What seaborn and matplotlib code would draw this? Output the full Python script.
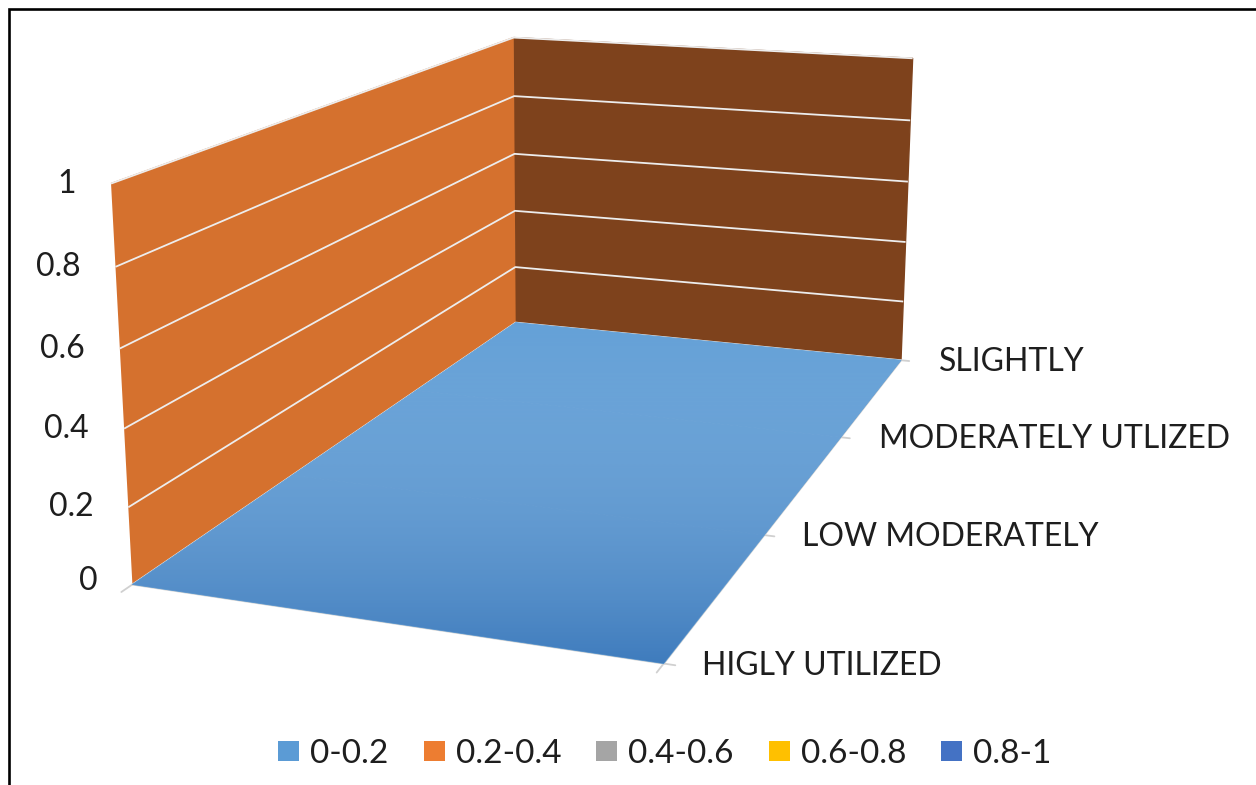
import numpy as np
import matplotlib
matplotlib.use("Agg")
import matplotlib.pyplot as plt
import seaborn as sns
from matplotlib.colors import LinearSegmentedColormap
from matplotlib.image import AxesImage
from matplotlib.lines import Line2D
from matplotlib.patches import Patch, Polygon
from mpl_toolkits.mplot3d import proj3d

# ---- chart data -----------------------------------------------------------
categories = ["", ""]
series = ["HIGLY UTILIZED", "LOW MODERATELY", "MODERATELY UTLIZED", "SLIGHTLY"]
values = [
    [0.0, 0.0],   # HIGLY UTILIZED
    [0.0, 0.0],   # LOW MODERATELY
    [0.0, 0.0],   # MODERATELY UTLIZED
    [0.0, 0.0],   # SLIGHTLY
]
band_edges = [0.0, 0.2, 0.4, 0.6, 0.8, 1.0]
band_labels = ["0-0.2", "0.2-0.4", "0.4-0.6", "0.6-0.8", "0.8-1"]
value_ticks = [0.0, 0.2, 0.4, 0.6, 0.8, 1.0]
value_tick_labels = ["0", "0.2", "0.4", "0.6", "0.8", "1"]

# ---- style ----------------------------------------------------------------
sns.set_theme(style="white")
plt.rcParams["font.family"] = ["Lato", "DejaVu Sans"]
band_palette = sns.color_palette(["#5B9BD5", "#ED7D31", "#A5A5A5", "#FFC000", "#4472C4"])
SIDE_WALL = "#D5712E"
BACK_WALL = "#7E421C"
GRID = "#EDEDED"
EDGE = "#D0D0D0"
TEXT = "#1E1E1E"
FS = 23
LEGEND_FS = 24

W, H = 1256, 785
fig = plt.figure(figsize=(W / 100, H / 100), dpi=100)
ax = fig.add_axes([0, 0, 1, 1], projection="3d")

# camera: box proportions, eye distance (box units), pixel scale at the
# look-at point and where that point sits on the canvas
BOX = np.array([1.0, 1.88, 0.734])
EYE = 3.87
PX_PER_UNIT = 572.7
CENTER = (573.5, 287.0)

ax.set_box_aspect(BOX)
unit = np.linalg.norm(ax._box_aspect) / np.linalg.norm(BOX)
dist = getattr(ax, "_dist", 10)
ax.set_proj_type("persp", focal_length=EYE * unit / dist)
ax.view_init(elev=14.5, azim=-70)

(vx0, vx1), (vy0, vy1) = ax.viewLim.intervalx, ax.viewLim.intervaly
side = PX_PER_UNIT * (vx1 - vx0) * dist / unit
left = CENTER[0] - side * (-vx0) / (vx1 - vx0)
bottom = (H - CENTER[1]) - side * (-vy0) / (vy1 - vy0)
ax.set_position([left / W, bottom / H, side / W, side / H])
ax.patch.set_alpha(0)

# ---- surface --------------------------------------------------------------
xi = np.arange(len(categories))
yi = np.arange(len(series))
X, Y = np.meshgrid(xi, yi)
Z = np.asarray(values, dtype=float)
band = np.clip(np.digitize(Z, band_edges[1:-1]), 0, len(band_labels) - 1)
face = np.array(band_palette)[band]
surf = ax.plot_surface(X, Y, Z, facecolors=face, shade=False, linewidth=0.6,
                       antialiased=True, rstride=1, cstride=1)

ax.set_xlim(xi[0], xi[-1])
ax.set_ylim(yi[0], yi[-1])
ax.set_zlim(value_ticks[0], value_ticks[-1])

# ---- walls, grid, axes ----------------------------------------------------
ax.xaxis.set_pane_color(SIDE_WALL)
ax.yaxis.set_pane_color(BACK_WALL)
ax.zaxis.set_pane_color((1, 1, 1, 0))

ax.grid(True)
for a in (ax.xaxis, ax.yaxis):
    a._axinfo["grid"].update(color=(0, 0, 0, 0), linewidth=0)
ax.zaxis._axinfo["grid"].update(color=GRID, linewidth=1.3)

ax.set_xticks(xi)
ax.set_xticklabels(categories)
ax.set_yticks(yi)
ax.set_yticklabels([""] * len(series))
ax.set_zticks(value_ticks)
ax.set_zticklabels([""] * len(value_ticks))
ax.tick_params(axis="x", colors=EDGE, width=1.3)
ax.tick_params(axis="y", colors=EDGE, width=1.3)
ax.tick_params(axis="z", colors=(1, 1, 1, 0))
for a in (ax.xaxis, ax.yaxis):
    a._axinfo["tick"].update(inward_factor=0.25, outward_factor=0.0)
    a._axinfo["tick"]["linewidth"] = {True: 1.3, False: 1.0}
    a.line.set_color(EDGE)
    a.line.set_linewidth(1.5)
ax.zaxis.line.set_color((1, 1, 1, 0))

# ---- lighting on the floor surface ----------------------------------------
proj = ax.get_proj()
cx = np.array([xi[0], xi[-1], xi[-1], xi[0]], dtype=float)
cy = np.array([yi[0], yi[0], yi[-1], yi[-1]], dtype=float)
fx, fy, _ = proj3d.proj_transform(cx, cy, np.full(4, Z.min()), proj)
light = LinearSegmentedColormap.from_list(
    "floor_light", [(0.08, 0.30, 0.60, 0.40), (1.0, 1.0, 1.0, 0.06)])
im = AxesImage(ax, cmap=light, interpolation="bilinear", origin="lower",
               extent=(fx.min(), fx.max(), fy.min(), fy.max()), zorder=10)
im.set_data(np.linspace(0, 1, 256)[:, None])
im.set_clip_path(Polygon(np.column_stack([fx, fy]), closed=True,
                         transform=ax.transData))
ax.add_image(im)

# ---- axis labels ----------------------------------------------------------
for z, lab in zip(value_ticks, value_tick_labels):
    px, py, _ = proj3d.proj_transform(xi[0], yi[0], z, proj)
    ax.annotate(lab, (px, py), xytext=(-35, 3 if z == 0 else 0),
                textcoords="offset pixels", ha="right", va="center",
                fontsize=FS, color=TEXT)
for y, lab in zip(yi, series):
    px, py, _ = proj3d.proj_transform(xi[-1], y, Z.min(), proj)
    ax.annotate(lab, (px, py), xytext=(38, -2), textcoords="offset pixels",
                ha="left", va="center", fontsize=FS, color=TEXT)

# ---- legend ---------------------------------------------------------------
handles = [Patch(facecolor=c, edgecolor="none") for c in band_palette]
fig.legend(handles, band_labels, loc="center",
           bbox_to_anchor=(665 / W, 1 - 754 / H), ncol=5, frameon=False,
           fontsize=LEGEND_FS, handlelength=0.63, handleheight=0.57,
           handletextpad=0.33, columnspacing=1.05, borderaxespad=0,
           labelcolor=TEXT)

# ---- chart border (left and top) ------------------------------------------
bx, by = 8.5 / W, 1 - 8.5 / H
fig.add_artist(Line2D([bx, bx, 1], [0, by, by], transform=fig.transFigure,
                      color="black", lw=1.9, solid_joinstyle="miter"))

fig.savefig("out.png", dpi=100)
